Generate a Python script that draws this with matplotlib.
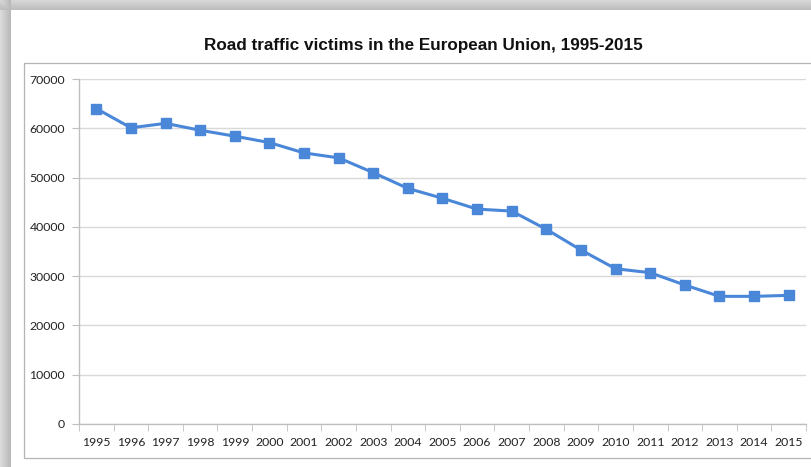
import matplotlib.pyplot as plt
import numpy as np
from matplotlib.patches import Rectangle

# Road traffic victims in the EU
years = ['1995', '1996', '1997', '1998', '1999', '2000', '2001', '2002', '2003', '2004', '2005',
         '2006', '2007', '2008', '2009', '2010', '2011', '2012', '2013', '2014', '2015']
victims = [64000, 60100, 61000, 59600, 58400, 57100, 55000, 54000, 51000, 47800, 45800,
           43600, 43200, 39500, 35300, 31500, 30700, 28200, 25900, 25900, 26100]

W, H = 812, 467
fig = plt.figure(figsize=(W / 100, H / 100), dpi=100)

# Background with the soft grey shadow on the left and top edges
bg = fig.add_axes([0, 0, 1, 1])
bg.axis('off')
shade = np.ones((H, W))
shade[:, :11] = np.linspace(0.86, 0.72, 11)
shade[:10, :] = np.minimum(shade[:10, :], np.linspace(0.84, 0.74, 10)[:, None])
bg.imshow(shade, cmap='gray', vmin=0, vmax=1, aspect='auto', extent=(0, W, H, 0))
bg.add_patch(Rectangle((24, 63), 820, 395, fill=False, ec='#B4B4B4', lw=0.9))
bg.set_xlim(0, W)
bg.set_ylim(H, 0)

fig.text(423 / W, 1 - 45 / H, 'Road traffic victims in the European Union, 1995-2015',
         ha='center', va='center', fontweight='bold', family='Liberation Sans',
         size=12.3, color='#111111')

# Plot area
ax = fig.add_axes([79 / W, 1 - 424 / H, (806 - 79) / W, (424 - 79) / H])
ax.set_facecolor('none')
x = np.arange(len(years))
ax.plot(x, victims, color='#4A87D8', lw=2.2, marker='s', ms=7.5, zorder=3)

ax.set_xlim(-0.5, len(years) - 0.5)
ax.set_ylim(0, 70000)
ax.set_yticks(range(0, 70001, 10000))
ax.set_xticks(x)
ax.set_xticklabels(years)
ax.set_xticks(np.arange(-0.5, len(years)), minor=True)
ax.grid(axis='y', color='#D9D9D9', lw=1)
ax.set_axisbelow(True)

for side in ['top', 'right']:
    ax.spines[side].set_visible(False)
for side in ['left', 'bottom']:
    ax.spines[side].set_color('#BFBFBF')
    ax.spines[side].set_linewidth(1)

ax.tick_params(axis='x', which='major', length=0, pad=9)
ax.tick_params(axis='x', which='minor', length=5, color='#BFBFBF', direction='out')
ax.tick_params(axis='y', length=5, color='#BFBFBF', direction='out', pad=5)
for lbl in ax.get_xticklabels() + ax.get_yticklabels():
    lbl.set_family('Lato')
    lbl.set_fontsize(8.8)
    lbl.set_color('#222222')

fig.savefig('out.png', dpi=100)
